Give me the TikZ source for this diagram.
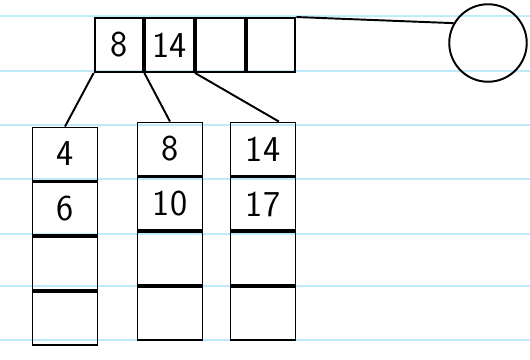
\documentclass[tikz,border=0pt]{standalone}
\usepackage{tikz}
\usetikzlibrary{
    arrows.meta,
    positioning,
    calc
}
\tikzset{
    topcell/.style={
        rectangle,
        draw=black,
        line width=1.1pt,
        minimum height=10.8mm,
        minimum width=9.75mm,
        inner sep=0pt,
        font=\huge\sffamily
    },
    colcell/.style={
        rectangle,
        draw=black,
        line width=1.1pt,
        minimum height=10.6mm,
        minimum width=13mm,
        inner sep=0pt,
        font=\huge\sffamily
    },
    overflow/.style={
        circle,
        draw=black,
        line width=1.1pt,
        minimum size=15.5mm
    },
    link/.style={
        line width=1.1pt
    },
    paper/.style={
        draw=cyan!25,
        line width=0.8pt
    }
}
\begin{document}
\begin{tikzpicture}[x=0.2mm, y=-0.2mm, node distance=0mm]

\useasboundingbox (0,0) rectangle (530,360);

% ruled paper
\foreach \y in {16,71,125,179,234,286,340}
    \draw[paper] (0,\y) -- (530,\y);

% index node
\node[topcell] (t1) at (119,45) {8};
\node[topcell, right=of t1.east, anchor=west] (t2) {14};
\node[topcell, right=of t2.east, anchor=west] (t3) {};
\node[topcell, right=of t3.east, anchor=west] (t4) {};

\node[overflow] (ovf) at (488,43) {};

% leaf columns
\node[colcell] (a1) at (65,154) {4};
\node[colcell, below=of a1.south, anchor=north] (a2) {6};
\node[colcell, below=of a2.south, anchor=north] (a3) {};
\node[colcell, below=of a3.south, anchor=north] (a4) {};

\node[colcell] (b1) at (170,149) {8};
\node[colcell, below=of b1.south, anchor=north] (b2) {10};
\node[colcell, below=of b2.south, anchor=north] (b3) {};
\node[colcell, below=of b3.south, anchor=north] (b4) {};

\node[colcell] (c1) at (263,149) {14};
\node[colcell, below=of c1.south, anchor=north] (c2) {17};
\node[colcell, below=of c2.south, anchor=north] (c3) {};
\node[colcell, below=of c3.south, anchor=north] (c4) {};

\draw[link] (t4.north east) -- (ovf.150);
\draw[link] (t1.south west) -- (a1.north);
\draw[link] (t1.south east) -- (b1.north);
\draw[link] (t2.south east) -- (c1.60);

\end{tikzpicture}
\end{document}
